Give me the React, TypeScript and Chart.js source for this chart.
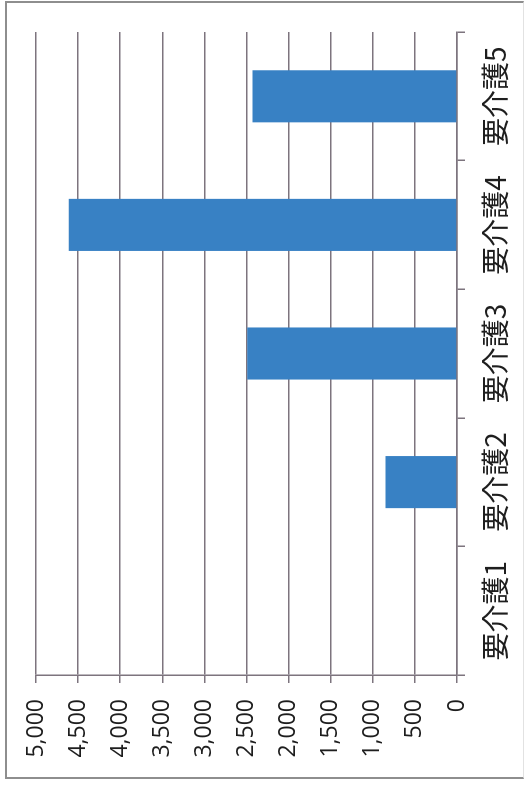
import React, { useEffect, useRef } from "react";
import { Chart, registerables } from "chart.js";

Chart.register(...registerables);

const categories = ["要介護1", "要介護2", "要介護3", "要介護4", "要介護5"];
const counts = [0, 850, 2490, 4610, 2430];
const valueTicks = [0, 500, 1000, 1500, 2000, 2500, 3000, 3500, 4000, 4500, 5000];

const GRID = "#7d747e";
const BAR = "#3881c4";
const CW = 786;
const CH = 525;

export default function App() {
  const ref = useRef<HTMLCanvasElement>(null);

  useEffect(() => {
    const chart = new Chart(ref.current!, {
      type: "bar",
      data: {
        labels: categories,
        datasets: [
          {
            data: counts,
            backgroundColor: BAR,
            barPercentage: 0.405,
            categoryPercentage: 1,
          },
        ],
      },
      options: {
        animation: false,
        responsive: false,
        devicePixelRatio: 1,
        layout: { padding: { left: 0, right: 32, top: 36, bottom: 0 } },
        plugins: { legend: { display: false }, tooltip: { enabled: false } },
        scales: {
          x: {
            grid: {
              drawOnChartArea: false,
              drawTicks: true,
              tickLength: 8,
              offset: true,
              color: GRID,
              lineWidth: 1.5,
            },
            border: { color: GRID, width: 1.5 },
            ticks: {
              font: { family: "'Noto Sans CJK JP'", size: 28 },
              color: "#1e1e1e",
              padding: 14,
              maxRotation: 0,
              autoSkip: false,
            },
            afterFit: (s: any) => {
              s.height = 68;
            },
          },
          y: {
            min: 0,
            max: 5000,
            afterBuildTicks: (s: any) => {
              s.ticks = valueTicks.map((v) => ({ value: v }));
            },
            ticks: {
              padding: 16,
              font: { family: "'Open Sans'", size: 23 },
              color: "#1e1e1e",
              callback: (v: any) => Number(v).toLocaleString("en-US"),
            },
            grid: { color: GRID, lineWidth: 1.5, tickLength: 8 },
            border: { color: GRID, width: 1.5 },
            afterFit: (s: any) => {
              s.width = 111;
            },
          },
        },
      },
    });
    return () => chart.destroy();
  }, []);

  return (
    <>
      <div
        style={{
          position: "fixed",
          left: 5,
          top: 1,
          width: 519,
          height: 778,
          boxSizing: "border-box",
          borderTop: "2px solid #8e8e8e",
          borderLeft: "2px solid #8e8e8e",
          borderBottom: "2px solid #8e8e8e",
          borderRight: "1px solid #e2e2e2",
        }}
      />
      <div
        style={{
          position: "fixed",
          left: 0,
          top: 0,
          width: CW,
          height: CH,
          transformOrigin: "0 0",
          transform: `rotate(-90deg) translate(-${CW}px, 0)`,
        }}
      >
        <canvas ref={ref} width={CW} height={CH} style={{ display: "block" }} />
      </div>
    </>
  );
}
